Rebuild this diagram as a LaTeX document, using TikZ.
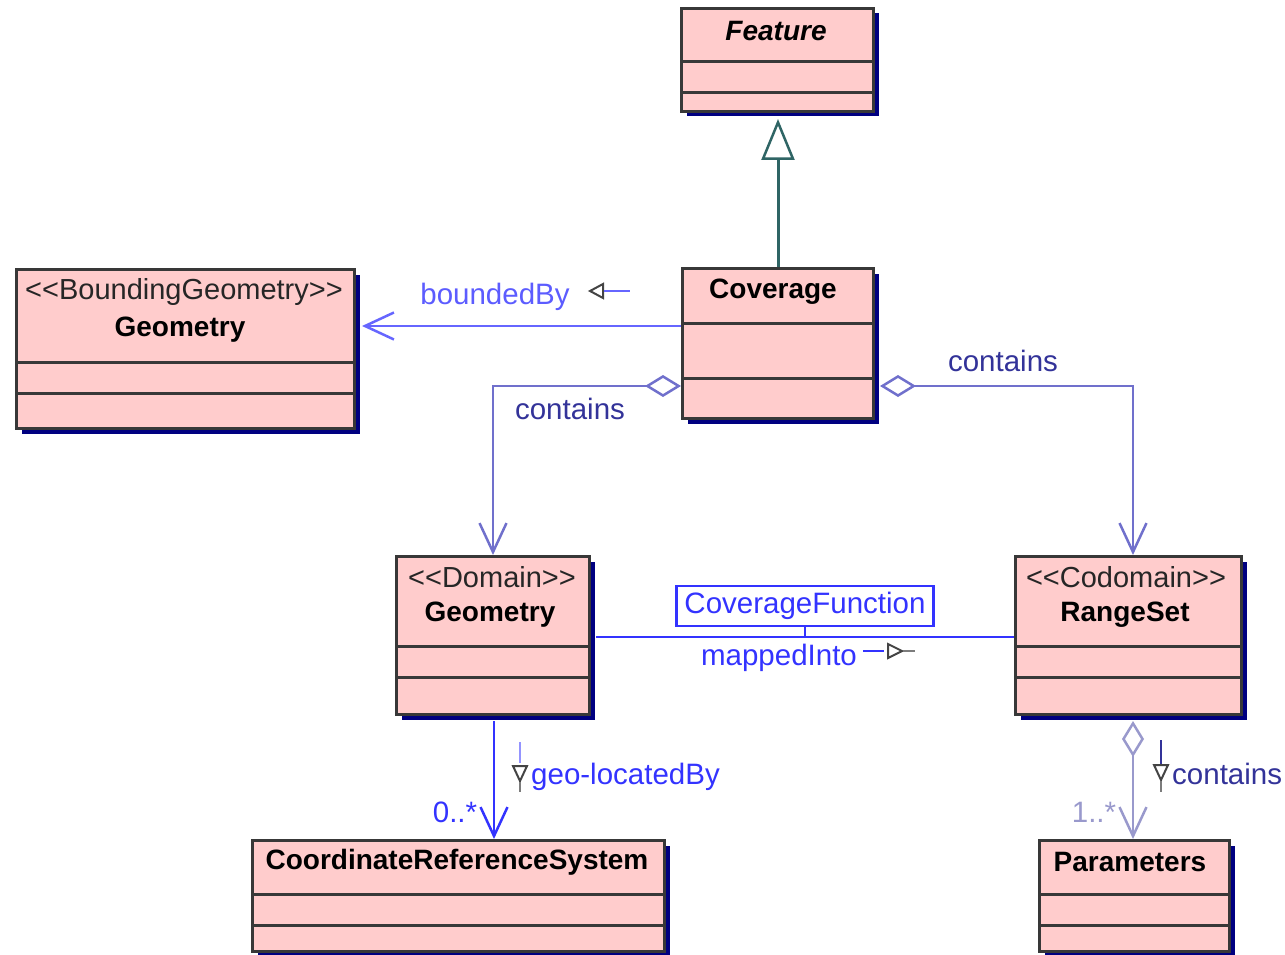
\documentclass[tikz,border=0pt]{standalone}
\usepackage{fontspec}
\setmainfont{Liberation Sans}
\usetikzlibrary{arrows.meta,shadows,calc}

\definecolor{classfill}{HTML}{FFCCCC}
\definecolor{classline}{HTML}{383838}
\definecolor{shadenavy}{HTML}{000080}
\definecolor{genteal}{HTML}{2F6565}
\definecolor{funcblue}{HTML}{3333FF}
\definecolor{softblue}{HTML}{6666FF}
\definecolor{aggrline}{HTML}{7070CC}
\definecolor{aggrpale}{HTML}{9999CC}
\definecolor{aggrtext}{HTML}{333399}
\definecolor{icongray}{HTML}{444444}

\tikzset{
  classbox/.style={draw=classline, line width=3pt, fill=classfill, inner sep=0pt,
    anchor=north west,
    drop shadow={shadow xshift=5pt, shadow yshift=-5pt, fill=shadenavy, opacity=1}},
  compart/.style={draw=classline, line width=3pt},
  classname/.style={font=\fontsize{28}{30}\selectfont\bfseries, inner sep=0pt, text=black},
  stereo/.style={font=\fontsize{29}{30}\selectfont, inner sep=0pt, text=black!85},
  lbl/.style={font=\fontsize{29.5}{30}\selectfont, inner sep=0pt},
  barb/.style={-{Straight Barb[length=29pt,width=27pt,line width=2.5pt]}},
  gen/.style={draw=genteal, line width=3pt,
    -{Triangle[open,length=41pt,width=33pt,line width=2.5pt,fill=white]}},
  bounded/.style={draw=softblue, line width=2.5pt, barb},
  aggr/.style={draw=aggrline, line width=2.5pt,
    {Diamond[open,length=36pt,width=22pt,line width=2.5pt]}-{Straight Barb[length=29pt,width=27pt,line width=2.5pt]}},
  funcline/.style={draw=funcblue, line width=2.5pt},
  funcbox/.style={draw=funcblue, line width=2.5pt, minimum width=257pt, minimum height=40pt,
    inner sep=0pt, font=\fontsize{29.5}{30}\selectfont, text=funcblue},
  navicon/.style={draw=icongray, line width=2pt, fill=white, line join=miter},
}

\begin{document}
\begin{tikzpicture}[x=1pt, y=-1pt]
  \useasboundingbox (0,0) rectangle (1285,955);

  % ---- classes ----
  \node[classbox, minimum width=192pt, minimum height=103pt] (feature) at (680,7) {};
  \draw[compart] (feature.west |- 0,62) -- (feature.east |- 0,62);
  \draw[compart] (feature.west |- 0,93) -- (feature.east |- 0,93);
  \node[classname, font=\fontsize{28}{30}\selectfont\bfseries\itshape] (featurename) at (776,31) {Feature};

  \node[classbox, minimum width=191pt, minimum height=150pt] (coverage) at (681,267) {};
  \draw[compart] (coverage.west |- 0,323) -- (coverage.east |- 0,323);
  \draw[compart] (coverage.west |- 0,378) -- (coverage.east |- 0,378);
  \node[classname] (coveragename) at (773,292) {Coverage};

  \node[classbox, minimum width=338pt, minimum height=159pt] (boundgeo) at (15,268) {};
  \draw[compart] (boundgeo.west |- 0,362) -- (boundgeo.east |- 0,362);
  \draw[compart] (boundgeo.west |- 0,393) -- (boundgeo.east |- 0,393);
  \node[stereo] (boundgeost) at (184,292) {<{}<BoundingGeometry>{}>};
  \node[classname] (boundgeoname) at (180,330) {Geometry};

  \node[classbox, minimum width=193pt, minimum height=158pt] (domgeo) at (395,555) {};
  \draw[compart] (domgeo.west |- 0,646) -- (domgeo.east |- 0,646);
  \draw[compart] (domgeo.west |- 0,677) -- (domgeo.east |- 0,677);
  \node[stereo] (domgeost) at (492,577) {<{}<Domain>{}>};
  \node[classname] (domgeoname) at (490,615) {Geometry};

  \node[classbox, minimum width=226pt, minimum height=158pt] (rangeset) at (1014,555) {};
  \draw[compart] (rangeset.west |- 0,646) -- (rangeset.east |- 0,646);
  \draw[compart] (rangeset.west |- 0,677) -- (rangeset.east |- 0,677);
  \node[stereo] (rangesetst) at (1126,577) {<{}<Codomain>{}>};
  \node[classname] (rangesetname) at (1125,615) {RangeSet};

  \node[classbox, minimum width=412pt, minimum height=111pt] (crs) at (251,839) {};
  \draw[compart] (crs.west |- 0,894) -- (crs.east |- 0,894);
  \draw[compart] (crs.west |- 0,925) -- (crs.east |- 0,925);
  \node[classname] (crsname) at (457,862) {CoordinateReferenceSystem};

  \node[classbox, minimum width=190pt, minimum height=111pt] (params) at (1038,839) {};
  \draw[compart] (params.west |- 0,894) -- (params.east |- 0,894);
  \draw[compart] (params.west |- 0,925) -- (params.east |- 0,925);
  \node[classname] (paramsname) at (1130,862) {Parameters};

  % ---- generalization ----
  \draw[gen, shorten >=6pt] (coverage.north -| 778,0) -- (feature.south -| 778,0);

  % ---- boundedBy ----
  \draw[bounded, shorten >=6pt] (coverage.west |- 0,326) -- (boundgeo.east |- 0,326);
  \node[lbl, text=softblue!90!blue] (boundedlbl) at (495,297) {boundedBy};
  \draw[navicon] (590,291) -- (603,284) -- (603,298) -- cycle;
  \draw[softblue, line width=2.5pt] (604,291) -- (630,291);

  % ---- contains (Coverage -> Domain Geometry) ----
  \draw[aggr] (coverage.west |- 0,386) -| (domgeo.north);
  \node[lbl, text=aggrtext] (containsleft) at (570,409) {contains};

  % ---- contains (Coverage -> RangeSet) ----
  \draw[aggr, shorten <=5pt] (coverage.east |- 0,386) -| (rangeset.north -| 1133,0);
  \node[lbl, text=aggrtext] (containsright) at (1003,361) {contains};

  % ---- CoverageFunction association ----
  \draw[funcline, shorten <=5pt] (domgeo.east |- 0,637) -- (rangeset.west |- 0,637);
  \node[funcbox] (covfunc) at (805,606) {CoverageFunction};
  \draw[funcline] (covfunc.south) -- (covfunc.south |- 0,637);
  \node[lbl, text=funcblue] (mappedlbl) at (779,658) {mappedInto};
  \draw[funcline] (863,651) -- (884,651);
  \draw[navicon] (902,651) -- (888,644) -- (888,658) -- cycle;
  \draw[icongray!70, line width=2pt] (903,651) -- (915,651);

  % ---- geo-locatedBy ----
  \draw[funcline, barb, shorten <=5pt] (domgeo.south -| 494,0) -- (crs.north -| 494,0);
  \node[lbl, text=funcblue] (multcrs) at (455,812) {0..*};
  \draw[softblue!70, line width=2.5pt] (520,742) -- (520,763);
  \draw[navicon] (513,766) -- (527,766) -- (520,781) -- cycle;
  \draw[icongray!70, line width=2pt] (520,782) -- (520,792);
  \node[lbl, text=funcblue, anchor=west] (geolbl) at (531,777) {geo-locatedBy};

  % ---- contains (RangeSet -> Parameters) ----
  \draw[aggr, draw=aggrpale, shorten <=5pt] (rangeset.south -| 1133,0) -- (params.north -| 1133,0);
  \node[lbl, text=aggrpale] (multparams) at (1094,812) {1..*};
  \draw[aggrtext, line width=2.5pt] (1161,740) -- (1161,764);
  \draw[navicon] (1154,765) -- (1168,765) -- (1161,780) -- cycle;
  \draw[icongray!70, line width=2pt] (1161,781) -- (1161,792);
  \node[lbl, text=aggrtext, anchor=west] (containsbottom) at (1172,774) {contains};
\end{tikzpicture}
\end{document}
